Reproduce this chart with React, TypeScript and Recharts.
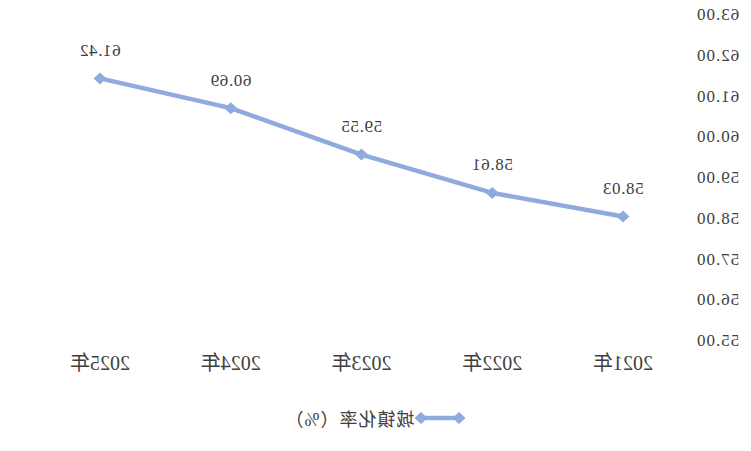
import React from "react";
import { LineChart, Line, XAxis, YAxis, LabelList } from "recharts";

const years = ["2021年", "2022年", "2023年", "2024年", "2025年"];
const rate = [58.03, 58.61, 59.55, 60.69, 61.42];
const yTicks = [55, 56, 57, 58, 59, 60, 61, 62, 63];
const seriesName = "城镇化率（%）";

const data = years.map((year, i) => ({ year, rate: rate[i] }));

const COLOR = "#8FAADC";
const FONT = "Liberation Serif, Noto Sans CJK SC, serif";

function Diamond(props: any) {
  const { cx, cy } = props;
  if (cx == null || cy == null) return null;
  const w = 6.5;
  const h = 6;
  return (
    <polygon
      points={`${cx},${cy - h} ${cx + w},${cy} ${cx},${cy + h} ${cx - w},${cy}`}
      fill={COLOR}
    />
  );
}

function ValueLabel(props: any) {
  const { x, y, value } = props;
  return (
    <text
      x={x}
      y={y - 28}
      textAnchor="middle"
      dominantBaseline="central"
      style={{ fontFamily: FONT, fontSize: 17, letterSpacing: 0.6 }}
      fill="#404040"
    >
      {Number(value).toFixed(2)}
    </text>
  );
}

export default function App() {
  return (
    <div
      style={{
        position: "absolute",
        left: 0,
        top: 0,
        width: 751,
        height: 451,
        background: "#fff",
        transform: "scaleX(-1)",
        fontFamily: FONT,
      }}
    >
      <LineChart
        width={751}
        height={451}
        data={data}
        margin={{ top: 14, right: 35, left: 0, bottom: 71 }}
      >
        <XAxis
          dataKey="year"
          axisLine={false}
          tickLine={false}
          tickSize={0}
          tickMargin={16}
          height={40}
          interval={0}
          padding={{ left: 65, right: 65 }}
          tick={{ style: { fontFamily: FONT, fontSize: 20 }, fill: "#404040" }}
        />
        <YAxis
          domain={[55, 63]}
          ticks={yTicks}
          axisLine={false}
          tickLine={false}
          tickSize={0}
          tickMargin={8}
          width={63}
          tickFormatter={(v: number) => v.toFixed(2)}
          tick={{ style: { fontFamily: FONT, fontSize: 17, letterSpacing: 1 }, fill: "#404040" }}
        />
        <Line
          type="linear"
          dataKey="rate"
          name={seriesName}
          stroke={COLOR}
          strokeWidth={4.5}
          dot={<Diamond />}
          activeDot={false}
          isAnimationActive={false}
        >
          <LabelList dataKey="rate" content={<ValueLabel />} />
        </Line>
      </LineChart>
      <div
        style={{
          position: "absolute",
          left: 0,
          width: 751,
          top: 405,
          display: "flex",
          justifyContent: "center",
          alignItems: "center",
          fontSize: 18,
          color: "#404040",
        }}
      >
        <svg width={52} height={14} style={{ marginRight: 0 }}>
          <line x1={6} y1={7} x2={46} y2={7} stroke={COLOR} strokeWidth={4.5} />
          <Diamond cx={7} cy={7} />
          <Diamond cx={45} cy={7} />
        </svg>
        <span style={{ letterSpacing: 1 }}>{seriesName}</span>
      </div>
    </div>
  );
}
